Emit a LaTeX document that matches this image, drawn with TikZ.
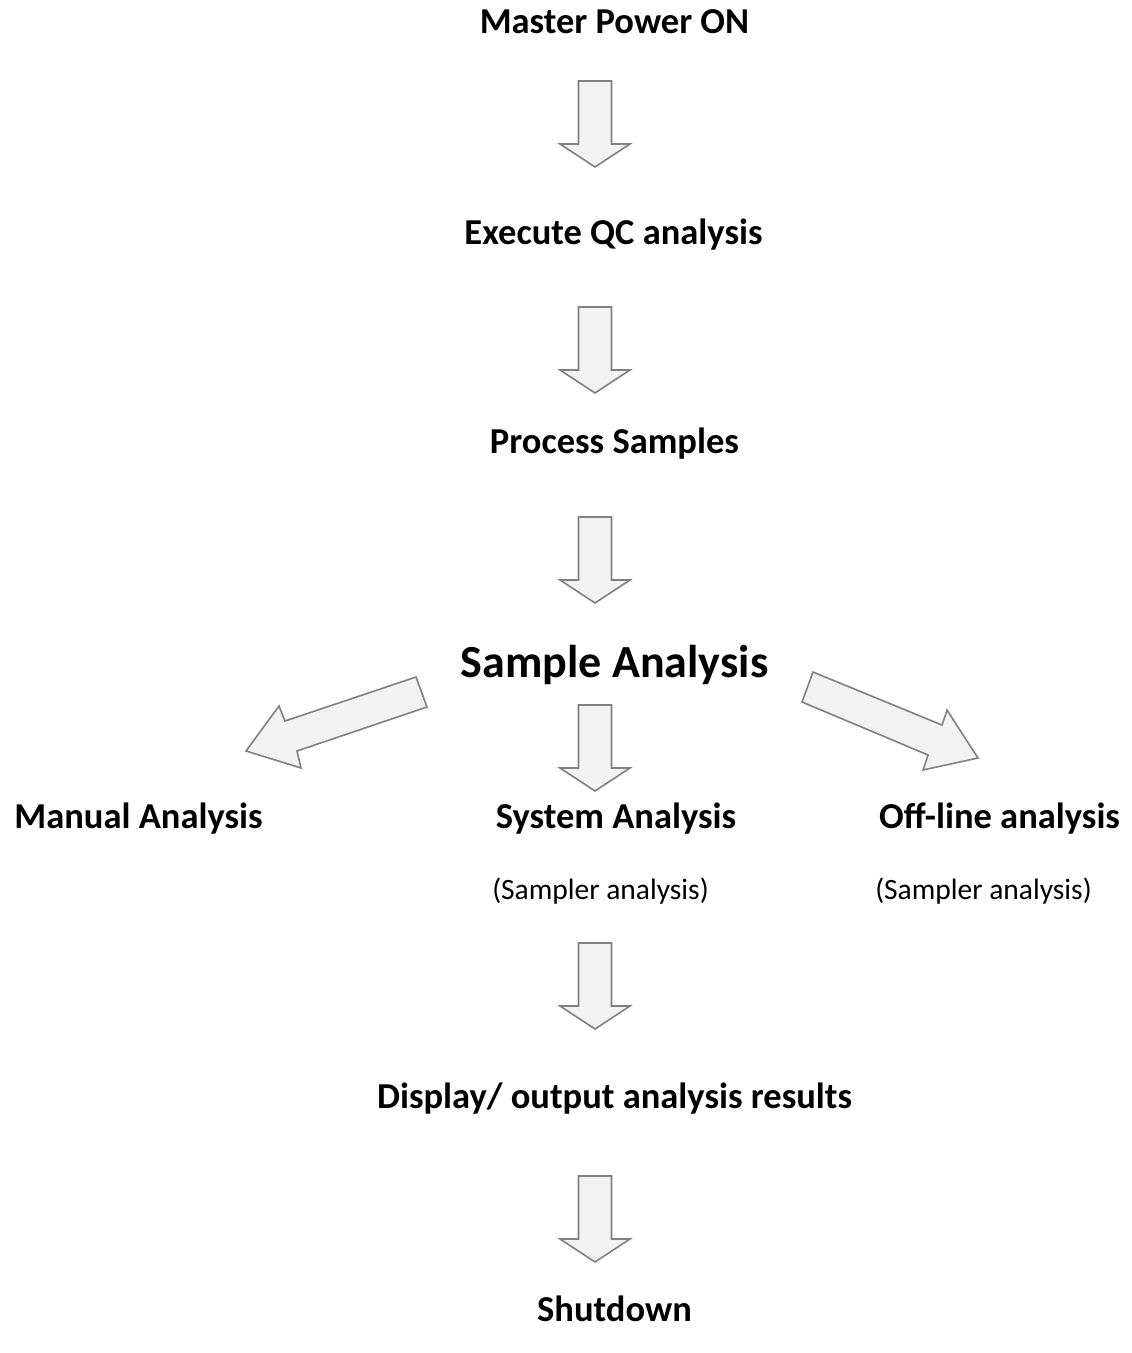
\documentclass[tikz,border=0pt]{standalone}
\usepackage{fontspec}
\setmainfont{Carlito}
\definecolor{arrowfill}{RGB}{242,242,242}
\definecolor{arrowline}{RGB}{128,128,128}
\tikzset{
  lbl/.style={anchor=base, inner sep=0pt, font=\fontsize{36.5}{42}\selectfont\bfseries},
  biglbl/.style={anchor=base, inner sep=0pt, font=\fontsize{46}{53}\selectfont\bfseries},
  smalllbl/.style={anchor=base, inner sep=0pt, font=\fontsize{29.5}{35}\selectfont},
  blockarrow/.style={fill=arrowfill, draw=arrowline, line width=1.6pt, line join=miter},
}
\newcommand\vblock[1]{%
  \draw[blockarrow] (578.5,#1) -- (611.5,#1) -- (611.5,{#1+63}) -- (630,{#1+63})
    -- (595,{#1+86}) -- (560,{#1+63}) -- (578.5,{#1+63}) -- cycle;}
\begin{document}
\begin{tikzpicture}[x=1pt,y=-1pt]
\useasboundingbox (0,0) rectangle (1132,1353);
\node[lbl] (power) at (614.5,33) {Master Power ON};
\node[lbl] (qc) at (613.5,244) {Execute QC analysis};
\node[lbl] (process) at (614.5,453) {Process Samples};
\node[biglbl] (sample) at (614.5,677) {Sample Analysis};
\node[lbl] (manual) at (138.5,828) {Manual Analysis};
\node[lbl] (system) at (616,828) {System Analysis};
\node[lbl] (offline) at (999.5,828) {Off-line analysis};
\node[smalllbl] (sampler1) at (600.5,899) {(Sampler analysis)};
\node[smalllbl] (sampler2) at (983.5,899) {(Sampler analysis)};
\node[lbl] (display) at (614.5,1108) {Display/ output analysis results};
\node[lbl] (shutdown) at (614.5,1321) {Shutdown};
\vblock{81}
\vblock{307}
\vblock{517}
\vblock{705}
\vblock{943}
\vblock{1176}
% left diagonal arrow
\draw[blockarrow] (416,677) -- (427,707) -- (297,751) -- (301,768) -- (246,751)
  -- (279,706) -- (285,721) -- cycle;
% right diagonal arrow
\draw[blockarrow] (813,672) -- (942,725) -- (947,710) -- (978,758) -- (923,770)
  -- (928,755) -- (802,702) -- cycle;
\end{tikzpicture}
\end{document}
